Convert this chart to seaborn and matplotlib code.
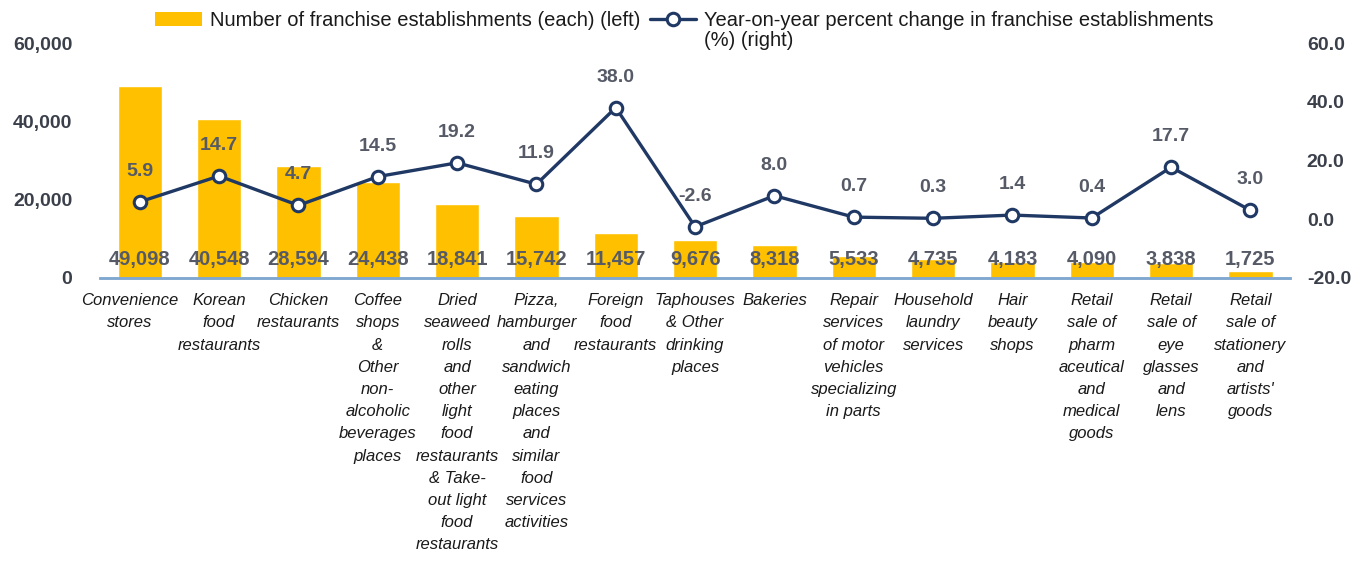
import matplotlib
matplotlib.use("Agg")
import matplotlib.pyplot as plt
import matplotlib.transforms as mtransforms
import seaborn as sns
import pandas as pd
from matplotlib.lines import Line2D
from matplotlib.patches import Patch
from matplotlib.ticker import FuncFormatter

# данные с графика
categories = [
    "Convenience\nstores",
    "Korean\nfood\nrestaurants",
    "Chicken\nrestaurants",
    "Coffee\nshops\n&\nOther\nnon-\nalcoholic\nbeverages\nplaces",
    "Dried\nseaweed\nrolls\nand\nother\nlight\nfood\nrestaurants\n& Take-\nout light\nfood\nrestaurants",
    "Pizza,\nhamburger\nand\nsandwich\neating\nplaces\nand\nsimilar\nfood\nservices\nactivities",
    "Foreign\nfood\nrestaurants",
    "Taphouses\n& Other\ndrinking\nplaces",
    "Bakeries",
    "Repair\nservices\nof motor\nvehicles\nspecializing\nin parts",
    "Household\nlaundry\nservices",
    "Hair\nbeauty\nshops",
    "Retail\nsale of\npharm\naceutical\nand\nmedical\ngoods",
    "Retail\nsale of\neye\nglasses\nand\nlens",
    "Retail\nsale of\nstationery\nand\nartists'\ngoods",
]
establishments = [49098, 40548, 28594, 24438, 18841, 15742, 11457, 9676,
                  8318, 5533, 4735, 4183, 4090, 3838, 1725]
pct_change = [5.9, 14.7, 4.7, 14.5, 19.2, 11.9, 38.0, -2.6,
              8.0, 0.7, 0.3, 1.4, 0.4, 17.7, 3.0]

bar_label = "Number of franchise establishments (each) (left)"
line_label = "Year-on-year percent change in franchise establishments"
line_label2 = "(%) (right)"

bar_color = "#FFC000"
line_color = "#1F3864"
text_gray = "#555a66"

sns.set_style("white")
plt.rcParams["font.family"] = ["Liberation Sans", "DejaVu Sans"]

df = pd.DataFrame({"category": categories,
                   "count": establishments,
                   "pct": pct_change,
                   "pos": range(len(categories))})

fig = plt.figure(figsize=(13.71, 5.66), dpi=100)
ax = fig.add_axes([0.073, 0.509, 0.868, 0.415])

sns.barplot(data=df, x="category", y="count", color=bar_color,
            saturation=1, width=0.56, ax=ax)
ax.set_ylim(0, 60000)
ax.set_yticks([0, 20000, 40000, 60000])
ax.yaxis.set_major_formatter(FuncFormatter(lambda v, p: f"{int(v):,}"))
ax.set_xlim(-0.5, len(categories) - 0.5)
ax.set_xlabel("")
ax.set_ylabel("")

for i, v in enumerate(establishments):
    ax.annotate(f"{v:,}", xy=(i, 0), xytext=(0, 13), textcoords="offset points",
                ha="center", va="center", fontsize=14.5, fontweight="bold",
                color=text_gray)

ax2 = ax.twinx()
sns.lineplot(data=df, x="pos", y="pct", color=line_color, linewidth=2.4,
             marker="o", markersize=9, markerfacecolor="white",
             markeredgecolor=line_color, markeredgewidth=2.2, ax=ax2)
ax2.set_ylim(-20, 60)
ax2.set_yticks([-20, 0, 20, 40, 60])
ax2.yaxis.set_major_formatter(FuncFormatter(lambda v, p: f"{v:.1f}"))
ax2.set_ylabel("")
ax2.set_xlabel("")

for i, v in enumerate(pct_change):
    ax2.annotate(f"{v:.1f}", xy=(i, v), xytext=(0, 22), textcoords="offset points",
                 ha="center", va="center", fontsize=14, fontweight="bold",
                 color=text_gray)

ax.set_xticks(range(len(categories)))
ax.set_xticklabels(categories, fontsize=12.0, style="italic", color="#1a1a1a",
                   va="top")
for lab in ax.get_xticklabels():
    lab.set_linespacing(1.6)
ax.tick_params(axis="x", length=0, pad=11)
ax.tick_params(axis="y", length=0, pad=20, labelsize=14, labelcolor="#3a3f4a")
for lab in ax.get_yticklabels():
    lab.set_fontweight("bold")
ax2.tick_params(axis="y", length=0, pad=12, labelsize=14, labelcolor="#3a3f4a")
for lab in ax2.get_yticklabels():
    lab.set_fontweight("bold")

# первая подпись в оригинале чуть левее центра столбца
first = ax.get_xticklabels()[0]
first.set_transform(first.get_transform() +
                    mtransforms.ScaledTranslation(-7 / 72, 0, fig.dpi_scale_trans))

for a in (ax, ax2):
    for s in ["top", "left", "right"]:
        a.spines[s].set_visible(False)
    a.spines["bottom"].set_color("#7FA7D0")
    a.spines["bottom"].set_linewidth(1.8)
    a.grid(False)

handles = [Patch(facecolor=bar_color, edgecolor="none"),
           Line2D([], [], color=line_color, linewidth=2.4, marker="o",
                  markersize=9, markerfacecolor="white",
                  markeredgecolor=line_color, markeredgewidth=2.2)]
leg = fig.legend(handles, [bar_label, line_label], loc="upper left",
                 bbox_to_anchor=(0.100, 1.012), ncol=2, frameon=False,
                 fontsize=14.5, handlelength=2.3, handleheight=0.7,
                 handletextpad=0.4, columnspacing=0.5)

# вторая строка подписи линии
fig.canvas.draw()
bb = leg.get_texts()[1].get_window_extent().transformed(fig.transFigure.inverted())
fig.text(bb.x0, bb.y0 - 0.002, line_label2, fontsize=14.5, va="top", ha="left",
         color="#1a1a1a")
for t in leg.get_texts():
    t.set_color("#1a1a1a")

fig.savefig("out.png", dpi=100)
